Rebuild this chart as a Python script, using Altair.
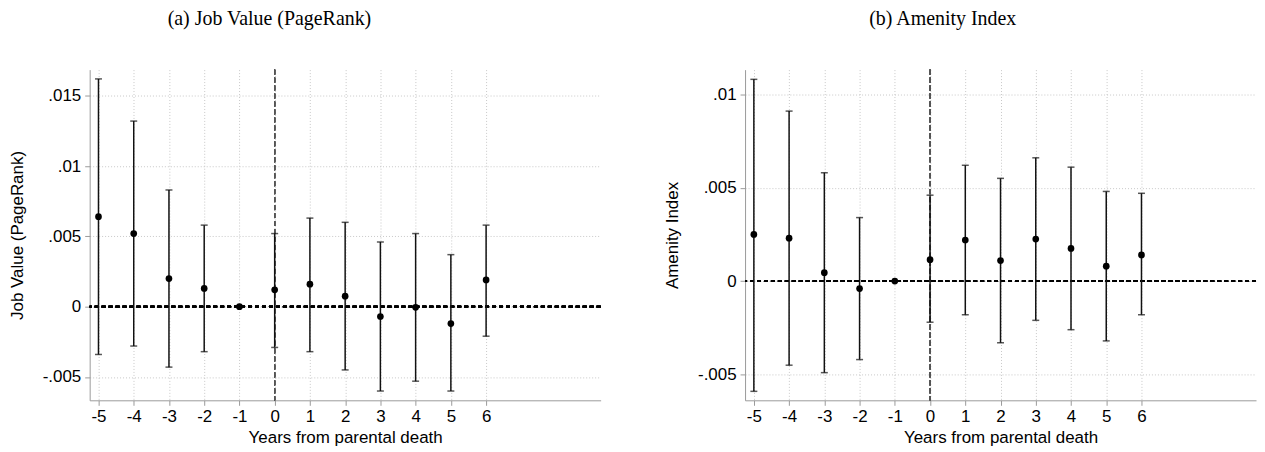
import altair as alt
import pandas as pd

# ---- data ----
years = [-5, -4, -3, -2, -1, 0, 1, 2, 3, 4, 5, 6]

a_coef = [0.0064, 0.0052, 0.0020, 0.0013, 0.0, 0.0012, 0.0016, 0.00075, -0.0007, -0.00005, -0.0012, 0.0019]
a_lo = [-0.0034, -0.0028, -0.0043, -0.0032, 0.0, -0.0029, -0.0032, -0.0045, -0.0060, -0.0053, -0.0060, -0.0021]
a_hi = [0.0162, 0.0132, 0.0083, 0.0058, 0.0, 0.0052, 0.0063, 0.0060, 0.0046, 0.0052, 0.0037, 0.0058]

b_coef = [0.0025, 0.0023, 0.00045, -0.0004, 0.0, 0.00115, 0.0022, 0.0011, 0.00225, 0.00175, 0.0008, 0.0014]
b_lo = [-0.0059, -0.0045, -0.0049, -0.0042, 0.0, -0.0022, -0.0018, -0.0033, -0.0021, -0.0026, -0.0032, -0.0018]
b_hi = [0.0108, 0.0091, 0.0058, 0.0034, 0.0, 0.0046, 0.0062, 0.0055, 0.0066, 0.0061, 0.0048, 0.0047]

a_ticks = [-0.005, 0, 0.005, 0.01, 0.015]
b_ticks = [-0.005, 0, 0.005, 0.01]

x_title = "Years from parental death"

Y_LABEL_EXPR = ("datum.value == 0 ? '0' : (datum.value < 0 ? '-' : '') + "
                "substring(format(abs(datum.value), '.3~f'), 1)")
X_LABEL_EXPR = "(datum.value < 0 ? '-' : '') + toString(abs(datum.value))"


def panel(coef, lo, hi, title, ytitle, ydom, yticks, tdx):
    df = pd.DataFrame({"year": years, "coef": coef, "lo": lo, "hi": hi})
    df_err = df[df["year"] != -1]

    xs = alt.Scale(domain=[-5.25, 9.25], nice=False, zero=False)
    ys = alt.Scale(domain=ydom, nice=False, zero=False)

    ax = alt.Axis(values=years, title=x_title, labelExpr=X_LABEL_EXPR, grid=True,
                  gridDash=[1, 2], gridColor="#c8c8c8", gridWidth=1,
                  domainColor="#9a9a9a", tickColor="#9a9a9a", tickSize=5,
                  labelPadding=3, titlePadding=5)
    ay = alt.Axis(values=yticks, title=ytitle, labelExpr=Y_LABEL_EXPR, grid=True,
                  gridDash=[1, 2], gridColor="#c8c8c8", gridWidth=1,
                  domainColor="#9a9a9a", tickColor="#9a9a9a", tickSize=5,
                  labelPadding=4, titlePadding=16)

    def X(f):
        return alt.X(f, type="quantitative", scale=xs, axis=ax)

    def Y(f):
        return alt.Y(f, type="quantitative", scale=ys, axis=ay)

    base = alt.Chart(df)
    err = alt.Chart(df_err)

    vline = base.mark_rule(color="#555555", strokeDash=[5, 3], strokeWidth=1).encode(
        x=alt.datum(0, scale=xs, axis=ax)
    )
    hline = base.mark_rule(color="black", strokeDash=[4, 3], strokeWidth=1.6).encode(
        y=alt.datum(0, scale=ys, axis=ay)
    )
    bars = err.mark_rule(color="#111111", strokeWidth=1.5).encode(
        x=X("year"), y=Y("lo"), y2="hi"
    )
    cap_lo = err.mark_tick(color="#111111", thickness=1.5, size=7, orient="horizontal").encode(
        x=X("year"), y=Y("lo")
    )
    cap_hi = err.mark_tick(color="#111111", thickness=1.5, size=7, orient="horizontal").encode(
        x=X("year"), y=Y("hi")
    )
    pts = base.mark_circle(color="black", size=45, opacity=1).encode(
        x=X("year"), y=Y("coef")
    )

    return alt.layer(vline, hline, bars, cap_lo, cap_hi, pts).properties(
        width=513, height=332,
        title=alt.TitleParams(text=title, font="Liberation Serif", fontSize=20,
                              fontWeight="normal", color="black", anchor="middle",
                              frame="group", dx=tdx, dy=-2, offset=38),
    )


pa = panel(a_coef, a_lo, a_hi, "(a) Job Value (PageRank)", "Job Value (PageRank)",
           [-0.00666, 0.01686], a_ticks, -76)
pb = panel(b_coef, b_lo, b_hi, "(b) Amenity Index", "Amenity Index",
           [-0.00638, 0.01132], b_ticks, -58)

chart = (
    alt.hconcat(pa, pb, spacing=62)
    .properties(padding={"left": 0, "top": 0, "right": 0, "bottom": 0})
    .configure_view(stroke=None)
    .configure_axis(labelFont="Liberation Sans", titleFont="Liberation Sans",
                    labelFontSize=17, titleFontSize=17, labelColor="black",
                    titleColor="black", titleFontWeight="normal")
)

chart.save("out.html", embed_options={"renderer": "svg", "actions": False})
